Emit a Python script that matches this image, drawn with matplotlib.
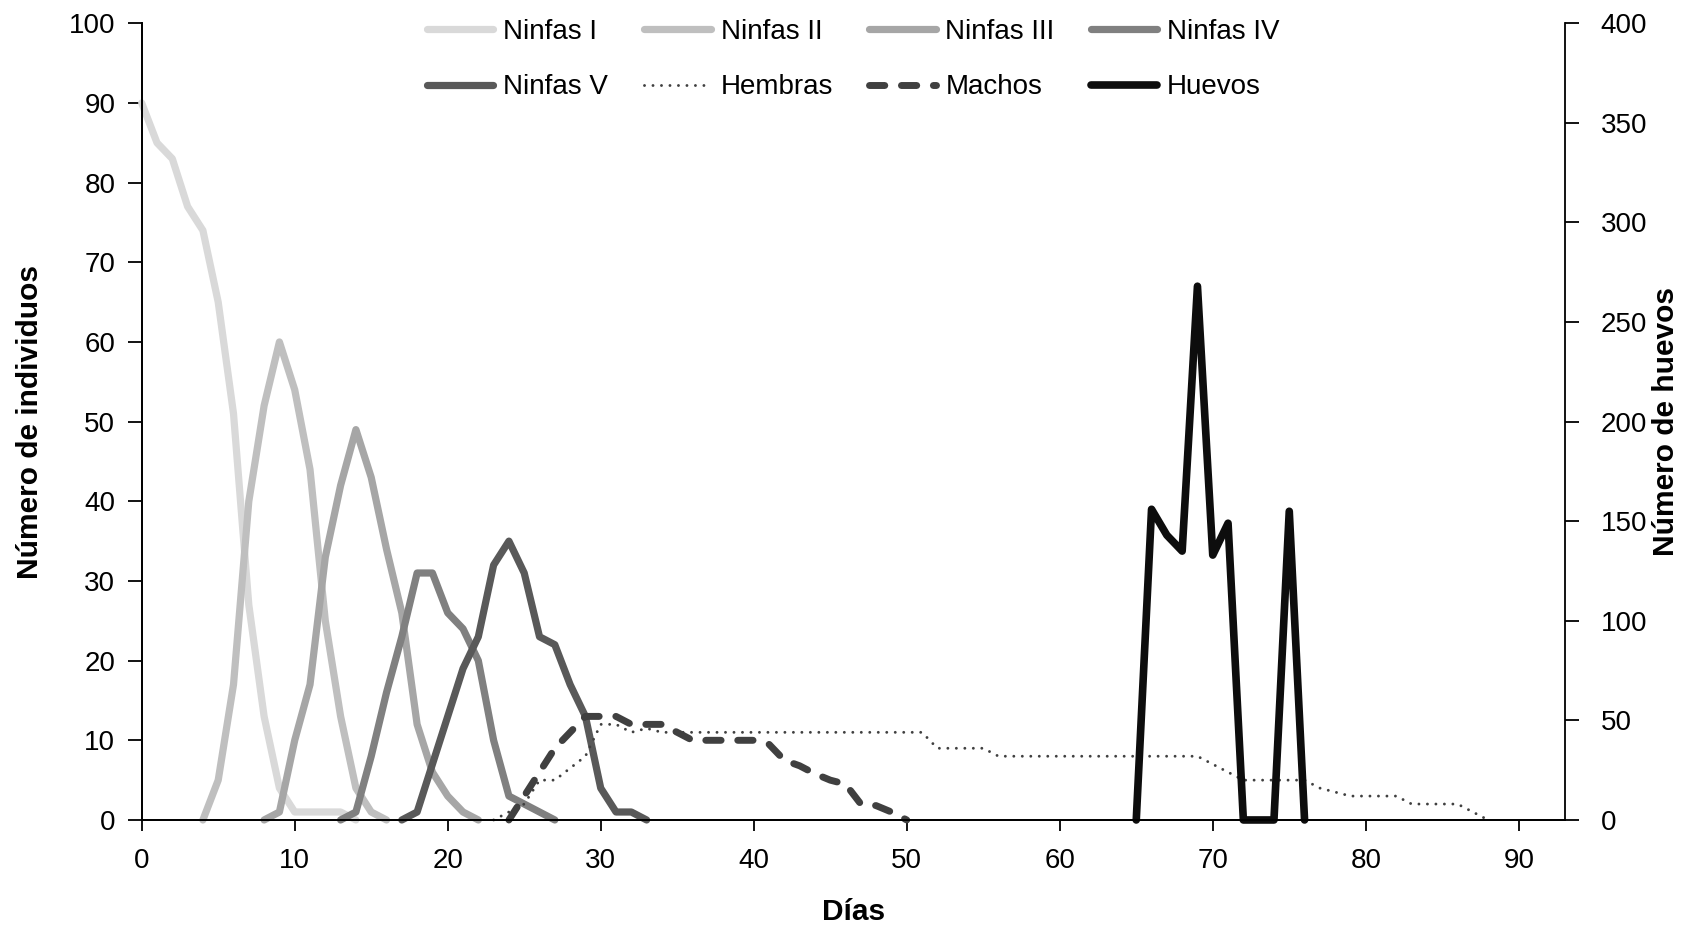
import matplotlib.pyplot as plt

plt.rcParams['font.family'] = ['Liberation Sans', 'DejaVu Sans']

# datos
dias_n1 = [0, 1, 2, 3, 4, 5, 6, 7, 8, 9, 10, 11, 12, 13, 14]
ninfas1 = [90, 85, 83, 77, 74, 65, 51, 27, 13, 4, 1, 1, 1, 1, 0]

dias_n2 = [4, 5, 6, 7, 8, 9, 10, 11, 12, 13, 14, 15, 16]
ninfas2 = [0, 5, 17, 40, 52, 60, 54, 44, 25, 13, 4, 1, 0]

dias_n3 = [8, 9, 10, 11, 12, 13, 14, 15, 16, 17, 18, 19, 20, 21, 22]
ninfas3 = [0, 1, 10, 17, 33, 42, 49, 43, 34, 26, 12, 6, 3, 1, 0]

dias_n4 = [13, 14, 15, 16, 17, 18, 19, 20, 21, 22, 23, 24, 25, 26, 27]
ninfas4 = [0, 1, 8, 16, 23, 31, 31, 26, 24, 20, 10, 3, 2, 1, 0]

dias_n5 = [17, 18, 19, 20, 21, 22, 23, 24, 25, 26, 27, 28, 29, 30, 31, 32, 33]
ninfas5 = [0, 1, 7, 13, 19, 23, 32, 35, 31, 23, 22, 17, 13, 4, 1, 1, 0]

dias_h = list(range(23, 89))
hembras = [0, 1, 2, 5, 5, 6.5, 8, 12, 12, 11, 11.5, 11,
           11, 11, 11, 11, 11, 11, 11, 11, 11, 11, 11, 11, 11, 11, 11, 11, 11,
           9, 9, 9, 9,
           8, 8, 8, 8, 8, 8, 8, 8, 8, 8, 8, 8, 8, 8,
           7, 6,
           5, 5, 5, 5, 5,
           4, 3.5,
           3, 3, 3, 3,
           2, 2, 2, 2,
           1, 0]

dias_m = list(range(24, 51))
machos = [0, 3, 6, 9, 11, 13, 13, 13, 12, 12, 12, 11, 10, 10, 10, 10, 10,
          9.5, 7.5, 6.8, 5.8, 5, 4.5, 2, 1.8, 1, 0]

dias_hu = [65, 66, 67, 68, 69, 70, 71, 72, 73, 74, 75, 76]
huevos = [0, 156, 143, 135, 268, 133, 149, 0, 0, 0, 155, 0]

fs = 20
lw = 5.2
solid = dict(solid_capstyle='round', solid_joinstyle='round', clip_on=False)

fig = plt.figure(figsize=(16.93, 9.32), dpi=100)
ax = fig.add_axes([0.0837, 0.1202, 0.8405, 0.8548])
ax2 = ax.twinx()

l1, = ax.plot(dias_n1, ninfas1, color='#d9d9d9', lw=lw, label='Ninfas I', **solid)
l2, = ax.plot(dias_n2, ninfas2, color='#bfbfbf', lw=lw, label='Ninfas II', **solid)
l3, = ax.plot(dias_n3, ninfas3, color='#a6a6a6', lw=lw, label='Ninfas III', **solid)
l4, = ax.plot(dias_n4, ninfas4, color='#808080', lw=lw, label='Ninfas IV', **solid)
l5, = ax.plot(dias_n5, ninfas5, color='#595959', lw=lw, label='Ninfas V', **solid)
lh, = ax.plot(dias_h, hembras, color='#404040', lw=2.1, linestyle=(0, (0.01, 2.9)),
              dash_capstyle='round', label='Hembras', clip_on=False)
lm, = ax.plot(dias_m, machos, color='#404040', lw=5, linestyle=(0, (2.2, 2.4)),
              dash_capstyle='round', dash_joinstyle='round', label='Machos', clip_on=False)
lhu, = ax2.plot(dias_hu, huevos, color='#0d0d0d', lw=5.5, label='Huevos', **solid)

ax.set_xlim(0, 93)
ax.set_ylim(0, 100)
ax2.set_ylim(0, 400)
ax.set_xticks(range(0, 91, 10))
ax.set_yticks(range(0, 101, 10))
ax2.set_yticks(range(0, 401, 50))

for a in (ax, ax2):
    a.spines['top'].set_visible(False)
    for s in a.spines.values():
        s.set_linewidth(1.3)
ax.spines['right'].set_visible(False)

ax.tick_params(axis='y', direction='out', length=10, width=1.3, pad=9, labelsize=fs)
ax.tick_params(axis='x', direction='out', length=8, width=1.3, pad=12, labelsize=fs)
ax2.tick_params(axis='y', direction='out', length=10, width=1.3, pad=16, labelsize=fs)

fig.text(0.0177, 0.5476, 'Número de individuos', rotation=90, ha='center', va='center',
         fontsize=21.5, fontweight='bold')
fig.text(0.984, 0.5476, 'Número de huevos', rotation=90, ha='center', va='center',
         fontsize=21.5, fontweight='bold')
fig.text(0.504, 0.0215, 'Días', ha='center', va='center', fontsize=21.5, fontweight='bold')

handles = [l1, l5, l2, lh, l3, lm, l4, lhu]
fig.legend(handles=handles, labels=[h.get_label() for h in handles], ncol=4,
           loc='center', bbox_to_anchor=(0.504, 0.9359), frameon=False, fontsize=fs,
           handlelength=2.4, handletextpad=0.35, columnspacing=1.3, labelspacing=1.05,
           borderpad=0)

fig.savefig('out.png', dpi=100)
